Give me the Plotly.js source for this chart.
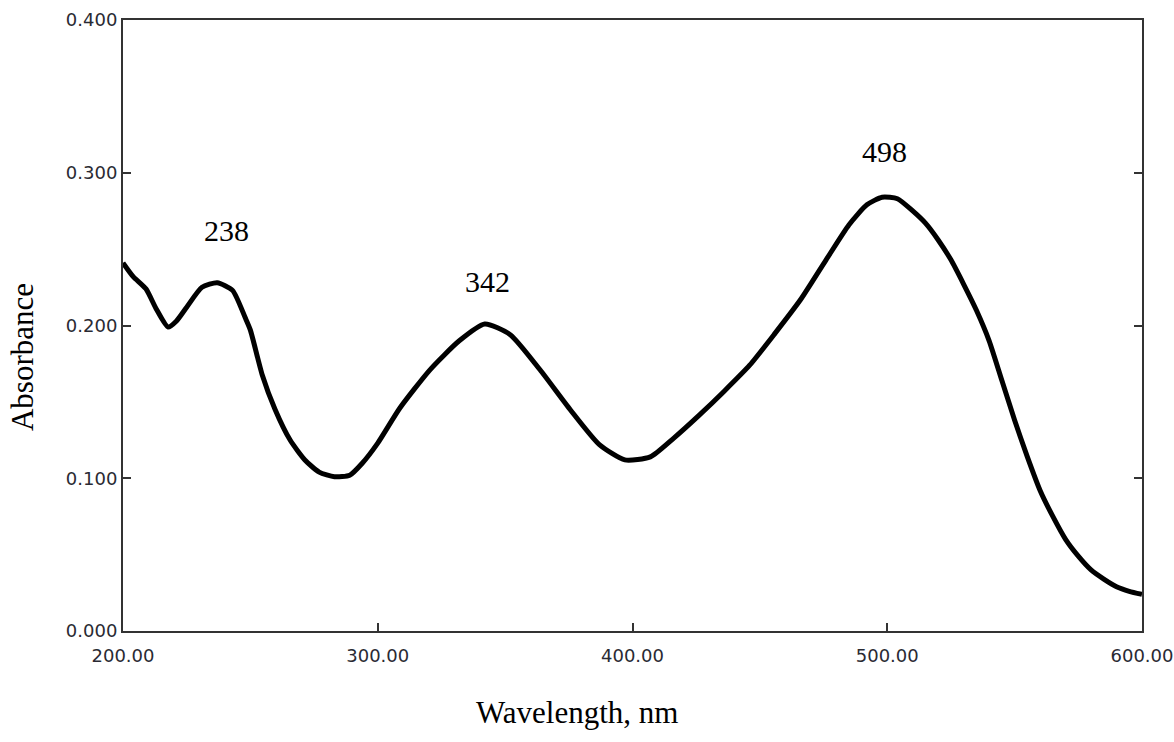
<!DOCTYPE html>
<html>
<head>
<meta charset="utf-8">
<script src="https://cdn.plot.ly/plotly-3.0.1.min.js"></script>
<style>html,body{margin:0;padding:0;background:#fff;}#chart{width:1174px;height:742px;}</style>
</head>
<body>
<div id="chart"></div>
<script>
const wavelength = [200, 204, 209, 213, 217.7, 221, 225, 231, 237, 243, 248, 250, 254.6, 259.7, 265.6, 271.4, 277, 283, 289, 294, 300, 308.7, 320.5, 332, 342, 352, 363.7, 375.5, 387, 397, 407, 416, 426, 436, 446, 456, 466, 476, 485, 492, 498, 504, 510, 515, 520, 525, 530, 535, 540, 545, 550, 555, 560, 565, 570, 575, 580, 585, 590, 595, 600];
const absorbance = [0.241, 0.232, 0.224, 0.211, 0.199, 0.203, 0.212, 0.225, 0.228, 0.223, 0.205, 0.197, 0.168, 0.145, 0.125, 0.112, 0.104, 0.101, 0.102, 0.110, 0.123, 0.146, 0.171, 0.190, 0.201, 0.194, 0.171, 0.145, 0.122, 0.112, 0.114, 0.126, 0.141, 0.157, 0.174, 0.195, 0.217, 0.243, 0.266, 0.279, 0.284, 0.283, 0.275, 0.267, 0.256, 0.243, 0.227, 0.210, 0.190, 0.164, 0.138, 0.114, 0.092, 0.075, 0.060, 0.049, 0.040, 0.034, 0.029, 0.026, 0.024];
const peakLabels = ["238", "342", "498"];
const peakX = [240.7, 342.9, 499.1];
const peakY = [0.2625, 0.2290, 0.3136];
const xTitle = "Wavelength, nm";
const yTitle = "Absorbance";

const serif = "Liberation Serif, Times New Roman, serif";

const trace = {
  x: wavelength, y: absorbance, type: "scatter", mode: "lines",
  line: {color: "#000", width: 5, shape: "spline", smoothing: 0.6},
  hoverinfo: "skip"
};

const annotations = peakLabels.map((t, i) => ({
  x: peakX[i], y: peakY[i], xref: "x", yref: "y", text: t, showarrow: false,
  font: {family: serif, size: 30, color: "#000"}
}));

annotations.push({
  x: 0.4455, y: -0.1326, xref: "paper", yref: "paper", text: xTitle, showarrow: false,
  xanchor: "center", yanchor: "middle", font: {family: serif, size: 31, color: "#000"}
});
annotations.push({
  x: -0.0991, y: 0.4484, xref: "paper", yref: "paper", text: yTitle, showarrow: false,
  textangle: -90, xanchor: "center", yanchor: "middle", font: {family: serif, size: 31, color: "#000"}
});

const axisCommon = {
  showgrid: false, zeroline: false, showline: true, linecolor: "#333", linewidth: 2,
  ticks: "inside", ticklen: 8, tickwidth: 2, tickcolor: "#333",
  ticklabeloverflow: "allow",
  tickfont: {family: "DejaVu Sans, Verdana, sans-serif", size: 18, color: "#2a2a33"}
};

const layout = {
  width: 1174, height: 742,
  margin: {l: 123, r: 32, t: 20, b: 111},
  paper_bgcolor: "#fff", plot_bgcolor: "#fff",
  showlegend: false,
  xaxis: Object.assign({}, axisCommon, {
    range: [200, 600], dtick: 100, tick0: 200, tickformat: ".2f", mirror: true,
    ticklabelstandoff: 7
  }),
  yaxis: Object.assign({}, axisCommon, {
    range: [0, 0.4], dtick: 0.1, tick0: 0, tickformat: ".3f", mirror: "ticks"
  }),
  annotations: annotations
};

Plotly.newPlot("chart", [trace], layout, {displayModeBar: false, staticPlot: true});
</script>
</body>
</html>
